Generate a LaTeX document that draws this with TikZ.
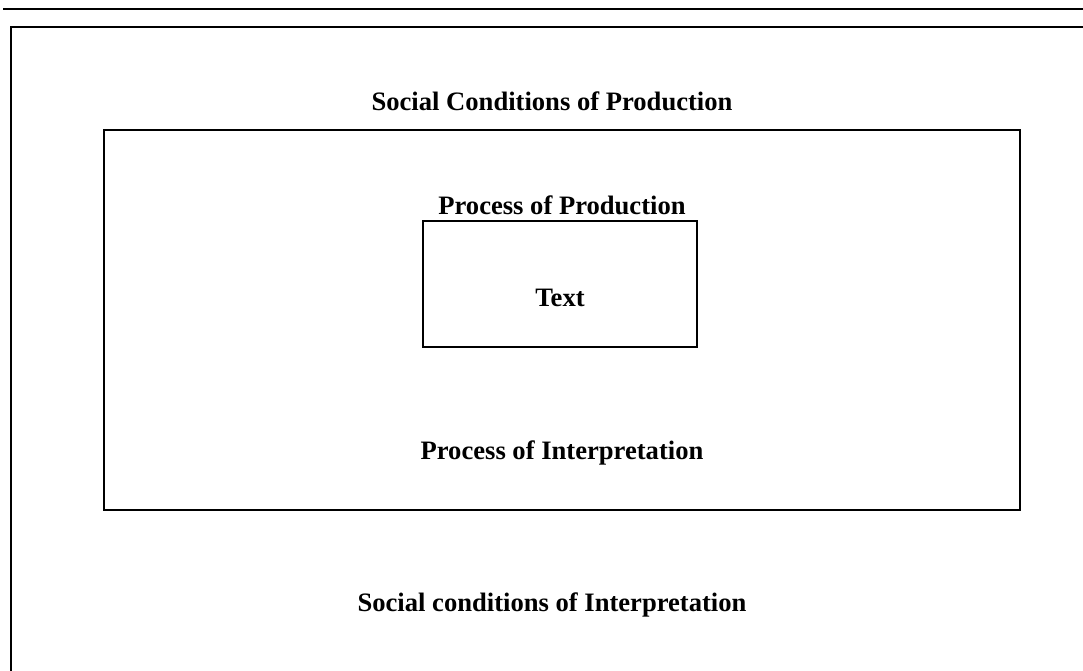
\documentclass[tikz,border=0pt]{standalone}
\usepackage{fontspec}
\setmainfont{Liberation Serif}
\begin{document}
\begin{tikzpicture}[x=1pt,y=-1pt,
  frame/.style={draw=black,line width=2pt},
  box/.style={draw=black,line width=1.8pt,fill=none},
  lbl/.style={font=\bfseries\fontsize{26.6}{30}\selectfont,inner sep=0pt}]
  \useasboundingbox (0,0) rectangle (1083,671);
  % rule across the top
  \draw[line width=2.8pt] (3,9) -- (1083,9);
  % open outer frame: top edge and left edge
  \coordinate (ftl) at (11,27);
  \coordinate (ftr) at (1083,27);
  \coordinate (fbl) at (11,671);
  \draw[frame] (ftr) -- (ftl) -- (fbl);
  % middle and inner boxes
  \node[box,minimum width=916pt,minimum height=380pt,inner sep=0pt] (mid) at (562,320) {};
  \node[box,minimum width=274pt,minimum height=126pt,inner sep=0pt] (inner) at (560,284) {};
  % labels
  \node[lbl] (scp) at (552,101) {Social Conditions of Production};
  \node[lbl] (pp) at (562,205) {Process of Production};
  \node[lbl] (txt) at (560,298) {Text};
  \node[lbl] (pi) at (562,453) {Process of Interpretation};
  \node[lbl] (sci) at (552,605) {Social conditions of Interpretation};
\end{tikzpicture}
\end{document}
